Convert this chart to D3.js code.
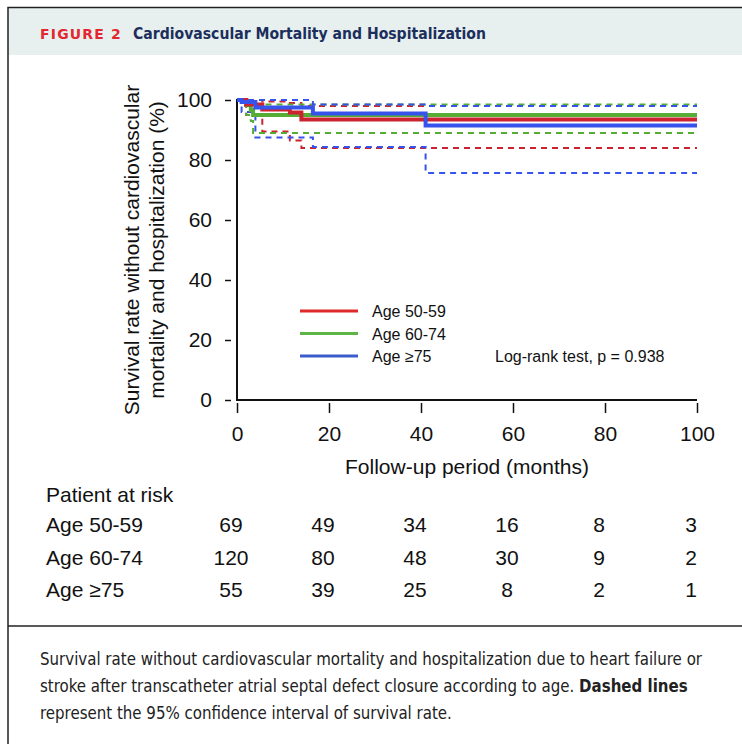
<!DOCTYPE html>
<html>
<head>
<meta charset="utf-8">
<script src="https://cdn.jsdelivr.net/npm/d3@7"></script>
<style>
  body { margin: 0; background: #fff; }
  svg { display: block; }
</style>
</head>
<body>
<svg id="fig" width="742" height="744"></svg>
<script>
// Kaplan-Meier steps (months, % event-free)
const groupNames = ["Age 50-59", "Age 60-74", "Age ≥75"];

const time5059 = [0, 2, 5.5, 11.5, 14, 100];
const surv5059 = [100, 98.5, 96.8, 95.8, 93.5, 93.5];
const lower5059 = [100, 95, 89.5, 86.5, 84, 84];
const upper5059 = [100, 100, 99.5, 99, 98, 98];

const time6074 = [0, 2, 3, 3.5, 100];
const surv6074 = [100, 98.3, 96.7, 95, 95];
const lower6074 = [100, 95, 93, 89, 89];
const upper6074 = [100, 100, 99.5, 98.5, 98.5];

const time75 = [0, 1, 4, 16.5, 41, 100];
const surv75 = [100, 99.3, 97.5, 95.5, 91.5, 91.5];
const lower75 = [100, 96, 87.5, 84.3, 75.7, 75.7];
const upper75 = [100, 100, 100, 98.5, 98, 98];

const riskMonths = [0, 20, 40, 60, 80, 100];
const risk5059 = [69, 49, 34, 16, 8, 3];
const risk6074 = [120, 80, 48, 30, 9, 2];
const risk75 = [55, 39, 25, 8, 2, 1];

const yTicks = [0, 20, 40, 60, 80, 100];
const xTicks = [0, 20, 40, 60, 80, 100];

const lineColors = ["#cc2331", "#55ad34", "#3653ec"];
const legendColors = ["#e02a2a", "#5cb545", "#3c5ccb"];

const groups = [
  { name: groupNames[0], time: time5059, surv: surv5059, lower: lower5059, upper: upper5059, risk: risk5059, color: lineColors[0] },
  { name: groupNames[1], time: time6074, surv: surv6074, lower: lower6074, upper: upper6074, risk: risk6074, color: lineColors[1] },
  { name: groupNames[2], time: time75, surv: surv75, lower: lower75, upper: upper75, risk: risk75, color: lineColors[2] }
];

const svg = d3.select("#fig");
const chartFont = "'Liberation Sans', Arial, sans-serif";
const narrowFont = "'Liberation Sans Narrow', 'DejaVu Sans Condensed', sans-serif";

svg.append("rect").attr("width", 742).attr("height", 744).attr("fill", "#fff");

// frame + header band
svg.append("rect").attr("x", 8).attr("y", 8).attr("width", 740).attr("height", 47).attr("fill", "#e7f0ef");
svg.append("path")
  .attr("d", "M8,760 V7.5 H750")
  .attr("fill", "none").attr("stroke", "#222").attr("stroke-width", 1.5);
svg.append("line").attr("x1", 8).attr("x2", 742).attr("y1", 626).attr("y2", 626)
  .attr("stroke", "#222").attr("stroke-width", 1.5);

svg.append("text")
  .attr("x", 40).attr("y", 39)
  .attr("font-family", "'DejaVu Sans', sans-serif").attr("font-weight", "bold")
  .attr("font-size", 14).attr("letter-spacing", 1.2).attr("fill", "#e3262f")
  .attr("textLength", 82).attr("lengthAdjust", "spacingAndGlyphs")
  .text("FIGURE 2");
svg.append("text")
  .attr("x", 133).attr("y", 39)
  .attr("font-family", narrowFont).attr("font-weight", "bold")
  .attr("font-size", 16).attr("fill", "#1b2e5c")
  .attr("textLength", 353).attr("lengthAdjust", "spacingAndGlyphs")
  .text("Cardiovascular Mortality and Hospitalization");

// scales
const x = d3.scaleLinear().domain([0, 100]).range([237, 697]);
const y = d3.scaleLinear().domain([0, 100]).range([400, 100]);

// axes (ticks detached from the axis line like the original)
const yAxis = svg.append("g")
  .attr("transform", `translate(${x(0)},0)`)
  .call(d3.axisLeft(y).tickValues(yTicks).tickSize(0).tickPadding(25));
yAxis.select(".domain").remove();
yAxis.selectAll(".tick text").attr("font-family", chartFont).attr("font-size", 21).attr("fill", "#111");
yAxis.selectAll(".tick").append("line")
  .attr("x1", -12).attr("x2", -6).attr("stroke", "#111").attr("stroke-width", 1.5);

const xAxis = svg.append("g")
  .attr("transform", `translate(0,${y(0)})`)
  .call(d3.axisBottom(x).tickValues(xTicks).tickSize(0).tickPadding(26));
xAxis.select(".domain").remove();
xAxis.selectAll(".tick text").attr("font-family", chartFont).attr("font-size", 21).attr("fill", "#111");
xAxis.selectAll(".tick").append("line")
  .attr("y1", 3).attr("y2", 13).attr("stroke", "#111").attr("stroke-width", 1.5);

svg.append("path")
  .attr("d", `M${x(0)},${y(100) - 1} V${y(0)} H${x(100)}`)
  .attr("fill", "none").attr("stroke", "#111").attr("stroke-width", 2);

// axis titles
svg.append("text")
  .attr("x", 467).attr("y", 474)
  .attr("text-anchor", "middle")
  .attr("font-family", chartFont).attr("font-size", 21).attr("fill", "#111")
  .text("Follow-up period (months)");

const yTitle = svg.append("text")
  .attr("transform", "translate(139,250) rotate(-90)")
  .attr("text-anchor", "middle")
  .attr("font-family", chartFont).attr("font-size", 21).attr("fill", "#111");
yTitle.append("tspan").attr("x", 0).attr("y", 0).text("Survival rate without cardiovascular");
yTitle.append("tspan").attr("x", 0).attr("y", 25).text("mortality and hospitalization (%)");

// curves
const stepLine = d3.line()
  .curve(d3.curveStepAfter)
  .x((d) => x(d[0]))
  .y((d) => y(d[1]));

const ciLayer = svg.append("g");
groups.forEach((g) => {
  ["lower", "upper"].forEach((key) => {
    ciLayer.append("path")
      .attr("d", stepLine(d3.zip(g.time, g[key])))
      .attr("fill", "none")
      .attr("stroke", g.color)
      .attr("stroke-width", 2)
      .attr("stroke-dasharray", "6,5");
  });
});

const survLayer = svg.append("g");
[1, 0, 2].forEach((i) => {
  const g = groups[i];
  survLayer.append("path")
    .attr("d", stepLine(d3.zip(g.time, g.surv)))
    .attr("fill", "none")
    .attr("stroke", g.color)
    .attr("stroke-width", 4);
});

// legend
const legend = svg.append("g");
groupNames.forEach((name, i) => {
  const ly = 311 + i * 22.5;
  legend.append("line")
    .attr("x1", 300).attr("x2", 358).attr("y1", ly).attr("y2", ly)
    .attr("stroke", legendColors[i]).attr("stroke-width", 3);
  legend.append("text")
    .attr("x", 372).attr("y", ly + 6)
    .attr("font-family", chartFont).attr("font-size", 16).attr("fill", "#111")
    .text(name);
});
svg.append("text")
  .attr("x", 495).attr("y", 362)
  .attr("font-family", chartFont).attr("font-size", 16).attr("fill", "#111")
  .text("Log-rank test, p = 0.938");

// patients at risk table
svg.append("text")
  .attr("x", 46).attr("y", 502)
  .attr("font-family", chartFont).attr("font-size", 21).attr("fill", "#111")
  .text("Patient at risk");

groups.forEach((g, i) => {
  const ry = 532 + i * 32.5;
  svg.append("text")
    .attr("x", 46).attr("y", ry)
    .attr("font-family", chartFont).attr("font-size", 21).attr("fill", "#111")
    .text(g.name);
  svg.append("g")
    .selectAll("text")
    .data(d3.zip(riskMonths, g.risk))
    .join("text")
    .attr("x", (d) => x(d[0]) - 6)
    .attr("y", ry)
    .attr("text-anchor", "middle")
    .attr("font-family", chartFont).attr("font-size", 21).attr("fill", "#111")
    .text((d) => d[1]);
});

// caption: one common squeeze factor, taken from the first (full) line
const captionLines = [
  [["Survival rate without cardiovascular mortality and hospitalization due to heart failure or", "normal"]],
  [["stroke after transcatheter atrial septal defect closure according to age. ", "normal"], ["Dashed lines", "bold"]],
  [["represent the 95% confidence interval of survival rate.", "normal"]]
];
const captionNodes = captionLines.map((parts, i) => {
  const t = svg.append("text")
    .attr("x", 40).attr("y", 665 + i * 27)
    .attr("font-family", narrowFont).attr("font-size", 17).attr("fill", "#222");
  parts.forEach((p) => {
    t.append("tspan").attr("font-weight", p[1]).text(p[0]);
  });
  return t;
});
const squeeze = 662 / captionNodes[0].node().getComputedTextLength();
captionNodes.forEach((t) => {
  const w = t.node().getComputedTextLength();
  t.attr("textLength", w * squeeze).attr("lengthAdjust", "spacingAndGlyphs");
});
</script>
</body>
</html>
